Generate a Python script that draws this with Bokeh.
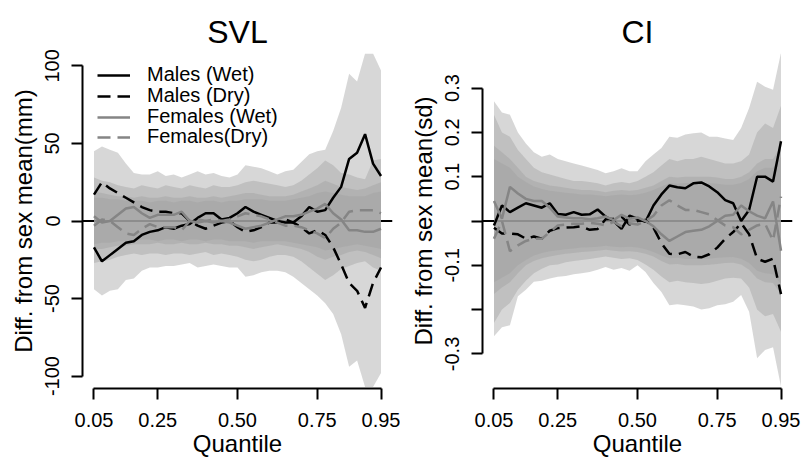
from bokeh.plotting import figure
from bokeh.models import Range1d, FixedTicker, CustomJSTickFormatter, Span, Legend, LegendItem
from bokeh.layouts import row
from bokeh.embed import file_html
from bokeh.resources import INLINE

# ---------------- data ----------------
QUANTILE = [0.05, 0.075, 0.1, 0.125, 0.15, 0.175, 0.2, 0.225, 0.25, 0.275, 0.3, 0.325,
            0.35, 0.375, 0.4, 0.425, 0.45, 0.475, 0.5, 0.525, 0.55, 0.575, 0.6, 0.625,
            0.65, 0.675, 0.7, 0.725, 0.75, 0.775, 0.8, 0.825, 0.85, 0.875, 0.9, 0.925, 0.95]
X_TICKS = [0.05, 0.25, 0.5, 0.75, 0.95]
X_TICK_LABELS = ["0.05", "0.25", "0.50", "0.75", "0.95"]
SERIES_NAMES = ["Males (Wet)", "Males (Dry)", "Females (Wet)", "Females(Dry)"]

# SVL panel
SVL_TICKS = [-100, -50, 0, 50, 100]
SVL_TICK_LABELS = ["-100", "-50", "0", "50", "100"]
SVL_M_WET = [-17, -26, -22, -18, -14, -13, -9, -7, -6, -4, -5, -3, -2, 2, 5, 5, 1, 2, 5, 9, 6, 4, 2, 0,
             -1, -1, 3, 9, 6, 7, 15, 22, 40, 44, 56, 37, 29]
SVL_M_DRY = [17, 25, 21, 18, 15, 12, 9, 7, 6, 6, 5, 5, 0, -3, -5, -3, -1, 0, -4, -7, -6, -4, -1, -1,
             1, -1, -4, -8, -6, -9, -17, -28, -40, -45, -56, -40, -30]
SVL_F_WET = [3, -1, 0, 4, 8, 9, 5, 2, 4, 4, 4, 6, 0, -1, 0, -1, 0, -1, -3, -5, -4, -3, -1, 1,
             3, 3, 4, 6, 8, 11, 5, 1, -6, -6, -7, -7, -5]
SVL_F_DRY = [-3, 1, 0, -4, -8, -9, -5, -2, -4, -4, -4, -6, 0, 1, 0, 1, 0, 1, 3, 5, 4, 3, 1, -1,
             -3, -3, -4, -6, -8, -11, -5, -1, 6, 7, 7, 7, 5]
SVL_BAND1_UP = [45, 48, 46, 44, 37, 31, 30, 30, 32, 29, 30, 28, 30, 32, 30, 31, 29, 28, 30, 36, 35, 34,
                32, 30, 32, 33, 38, 43, 45, 46, 58, 73, 95, 90, 108, 108, 97]
SVL_BAND1_LO = [-44, -48, -45, -44, -38, -37, -32, -30, -30, -29, -29, -28, -27, -30, -29, -28, -29, -30,
                -30, -36, -35, -33, -32, -32, -33, -36, -40, -44, -48, -53, -60, -73, -94, -90, -107, -107, -98]
SVL_BAND2_UP = [28, 26, 25, 23, 22, 21, 23, 22, 21, 23, 22, 21, 23, 22, 21, 23, 22, 22, 23, 25, 26, 25,
                24, 23, 22, 23, 26, 30, 34, 39, 36, 31, 30, 28, 27, 39, 40]
SVL_BAND2_LO = [-27, -26, -25, -23, -22, -21, -22, -21, -21, -22, -21, -21, -22, -21, -20, -22, -21, -22,
                -23, -25, -26, -25, -23, -22, -22, -23, -26, -30, -34, -38, -35, -31, -29, -27, -26, -30, -32]
SVL_BAND3_UP = [19, 18, 17, 16, 16, 15, 16, 15, 15, 16, 15, 15, 16, 15, 15, 16, 15, 16, 17, 18, 18, 17,
                16, 16, 16, 17, 19, 21, 23, 26, 24, 22, 21, 20, 21, 23, 25]
SVL_BAND3_LO = [-18, -18, -17, -16, -16, -15, -15, -15, -14, -15, -15, -14, -15, -15, -14, -15, -15, -16,
                -16, -17, -18, -17, -16, -15, -16, -17, -18, -20, -23, -25, -23, -22, -20, -19, -20, -22, -24]
SVL_BAND4_UP = [15, 15, 14, 14, 13, 13, 13, 12, 13, 13, 12, 13, 13, 12, 13, 13, 12, 13, 13, 14, 14, 14,
                13, 13, 13, 14, 15, 16, 18, 19, 18, 17, 16, 16, 16, 18, 19]
SVL_BAND4_LO = [-15, -14, -14, -13, -13, -13, -12, -12, -13, -12, -12, -13, -12, -12, -13, -12, -12, -13,
                -13, -13, -14, -13, -13, -13, -13, -14, -15, -16, -17, -19, -18, -17, -16, -15, -16, -17, -18]

# CI panel
CI_TICKS = [-0.3, -0.2, -0.1, 0.0, 0.1, 0.2, 0.3]
CI_TICK_LABELS = ["-0.3", "", "-0.1", "", "0.1", "0.2", "0.3"]
CI_M_WET = [-0.01, 0.035, 0.02, 0.03, 0.04, 0.035, 0.03, 0.04, 0.016, 0.014, 0.02, 0.014, 0.015, 0.026,
            0.01, 0.0, -0.018, 0.012, 0.005, -0.002, 0.035, 0.06, 0.08, 0.076, 0.074, 0.085, 0.087,
            0.078, 0.065, 0.047, 0.04, 0.0, 0.025, 0.1, 0.1, 0.089, 0.18]
CI_M_DRY = [-0.015, -0.028, -0.028, -0.03, -0.04, -0.035, -0.04, -0.022, -0.016, -0.015, -0.014, -0.012,
            -0.02, -0.018, 0.004, 0.005, 0.01, -0.008, 0.0, 0.002, -0.015, -0.05, -0.074, -0.075, -0.07,
            -0.08, -0.082, -0.075, -0.06, -0.04, -0.025, -0.005, -0.03, -0.085, -0.092, -0.085, -0.165]
CI_F_WET = [0.045, 0.005, 0.077, 0.062, 0.05, 0.045, 0.045, 0.03, 0.01, 0.008, 0.006, 0.006, 0.004, 0.006,
            0.01, 0.002, 0.014, 0.005, 0.008, 0.0, -0.012, -0.03, -0.045, -0.035, -0.025, -0.022, -0.02,
            -0.012, 0.0, 0.012, 0.014, 0.035, 0.022, 0.012, 0.006, 0.044, -0.067]
CI_F_DRY = [-0.04, 0.0, -0.068, -0.055, -0.045, -0.04, -0.04, -0.025, -0.01, -0.008, -0.006, -0.006,
            -0.004, -0.006, -0.01, -0.002, -0.012, -0.005, -0.008, 0.0, 0.012, 0.035, 0.047, 0.035, 0.025,
            0.025, 0.02, 0.015, 0.002, -0.01, -0.014, -0.03, -0.02, -0.01, -0.006, -0.044, 0.055]
CI_BAND1_UP = [0.27, 0.245, 0.24, 0.2, 0.175, 0.155, 0.145, 0.15, 0.14, 0.135, 0.13, 0.125, 0.12, 0.115,
               0.108, 0.112, 0.119, 0.112, 0.112, 0.135, 0.15, 0.165, 0.19, 0.188, 0.195, 0.198, 0.2, 0.19,
               0.19, 0.186, 0.183, 0.21, 0.255, 0.314, 0.303, 0.296, 0.38]
CI_BAND1_LO = [-0.26, -0.24, -0.235, -0.17, -0.155, -0.137, -0.135, -0.13, -0.126, -0.124, -0.12, -0.118,
               -0.115, -0.11, -0.104, -0.11, -0.106, -0.112, -0.1, -0.115, -0.14, -0.16, -0.19, -0.188,
               -0.19, -0.193, -0.2, -0.197, -0.19, -0.188, -0.182, -0.167, -0.205, -0.31, -0.291, -0.285, -0.374]
CI_BAND2_UP = [0.24, 0.2, 0.19, 0.16, 0.14, 0.12, 0.11, 0.105, 0.1, 0.095, 0.09, 0.09, 0.088, 0.085, 0.08,
               0.085, 0.088, 0.085, 0.09, 0.1, 0.11, 0.125, 0.14, 0.135, 0.14, 0.14, 0.145, 0.14, 0.135,
               0.13, 0.13, 0.135, 0.15, 0.2, 0.22, 0.21, 0.26]
CI_BAND2_LO = [-0.23, -0.2, -0.185, -0.155, -0.135, -0.118, -0.108, -0.1, -0.098, -0.093, -0.09, -0.088,
               -0.086, -0.083, -0.08, -0.083, -0.086, -0.084, -0.088, -0.098, -0.11, -0.125, -0.138, -0.135,
               -0.138, -0.14, -0.142, -0.14, -0.135, -0.13, -0.128, -0.13, -0.15, -0.2, -0.215, -0.21, -0.25]
CI_BAND3_UP = [0.17, 0.155, 0.14, 0.12, 0.1, 0.09, 0.085, 0.08, 0.078, 0.075, 0.072, 0.07, 0.07, 0.068,
               0.065, 0.068, 0.07, 0.068, 0.07, 0.075, 0.08, 0.09, 0.1, 0.098, 0.1, 0.1, 0.1, 0.1, 0.098,
               0.095, 0.095, 0.1, 0.11, 0.13, 0.14, 0.14, 0.17]
CI_BAND3_LO = [-0.165, -0.15, -0.138, -0.118, -0.1, -0.09, -0.084, -0.08, -0.077, -0.074, -0.072, -0.07,
               -0.069, -0.067, -0.065, -0.067, -0.069, -0.068, -0.07, -0.074, -0.08, -0.09, -0.098, -0.097,
               -0.1, -0.1, -0.1, -0.099, -0.097, -0.095, -0.094, -0.098, -0.11, -0.13, -0.138, -0.14, -0.165]
CI_BAND4_UP = [0.14, 0.13, 0.12, 0.1, 0.088, 0.078, 0.072, 0.068, 0.066, 0.064, 0.062, 0.06, 0.06, 0.058,
               0.056, 0.058, 0.06, 0.058, 0.06, 0.064, 0.07, 0.078, 0.085, 0.084, 0.086, 0.086, 0.086,
               0.085, 0.084, 0.082, 0.082, 0.086, 0.095, 0.112, 0.12, 0.12, 0.145]
CI_BAND4_LO = [-0.138, -0.128, -0.118, -0.1, -0.088, -0.078, -0.072, -0.068, -0.066, -0.064, -0.062,
               -0.06, -0.059, -0.058, -0.056, -0.058, -0.059, -0.058, -0.06, -0.064, -0.07, -0.078,
               -0.084, -0.083, -0.086, -0.086, -0.086, -0.085, -0.083, -0.082, -0.081, -0.085, -0.095,
               -0.112, -0.118, -0.12, -0.142]

# ---------------- styling ----------------
FONT = "Liberation Sans"
BAND_COLOR = (160, 160, 160)
BAND_ALPHA = 0.42
GREY = "#858585"
LINE_STYLES = [("black", "solid"), ("black", "13 7"), (GREY, "solid"), (GREY, "13 7")]
LEGEND_OFFSETS = [(15, 302), (15, 281), (15, 260), (15, 240)]  # screen px from frame bottom-left

FMT_CODE = """
const i = tv.findIndex(t => Math.abs(t - tick) < 1e-9);
return i >= 0 ? tl[i] : '';
"""


def make_panel(title, ylabel, yrange, yticks, ylabels, bands, lines, width, right_border, with_legend):
    p = figure(width=width, height=461,
               x_range=Range1d(0.014, 0.986), y_range=Range1d(*yrange),
               output_backend="svg", toolbar_location=None,
               min_border_left=82, min_border_right=right_border,
               min_border_top=53, min_border_bottom=73)
    p.outline_line_color = None
    p.xgrid.visible = False
    p.ygrid.visible = False
    p.background_fill_color = "white"
    p.border_fill_color = "white"

    p.title.text = title
    p.title.align = "center"
    p.title.text_font = FONT
    p.title.text_font_size = "32px"
    p.title.text_font_style = "normal"
    p.title.text_color = "black"
    p.title.standoff = 8

    # zero reference line (under the bands)
    p.add_layout(Span(location=0, dimension="width", line_color="black",
                      line_width=2, level="underlay"))

    for up, lo in bands:
        p.varea(x=QUANTILE, y1=lo, y2=up, fill_color=BAND_COLOR, fill_alpha=BAND_ALPHA)

    renderers = []
    for ys, (col, dash) in zip(lines, LINE_STYLES):
        r = p.line(QUANTILE, ys, line_color=col, line_width=2.5, line_dash=dash)
        renderers.append(r)

    xa = p.xaxis[0]
    xa.ticker = FixedTicker(ticks=X_TICKS)
    xa.formatter = CustomJSTickFormatter(args=dict(tv=X_TICKS, tl=X_TICK_LABELS), code=FMT_CODE)
    xa.bounds = (X_TICKS[0], X_TICKS[-1])
    xa.axis_label = "Quantile"

    ya = p.yaxis[0]
    ya.ticker = FixedTicker(ticks=yticks)
    ya.formatter = CustomJSTickFormatter(args=dict(tv=yticks, tl=ylabels), code=FMT_CODE)
    ya.bounds = (yticks[0], yticks[-1])
    ya.axis_label = ylabel
    ya.major_label_orientation = "vertical"

    for ax in (xa, ya):
        ax.axis_line_width = 2
        ax.axis_line_color = "black"
        ax.major_tick_line_width = 2
        ax.major_tick_line_color = "black"
        ax.major_tick_in = 0
        ax.major_tick_out = 11
        ax.minor_tick_line_color = None
        ax.major_label_text_font = FONT
        ax.major_label_text_font_size = "20px"
        ax.major_label_text_color = "black"
        ax.axis_label_text_font = FONT
        ax.axis_label_text_font_size = "24px"
        ax.axis_label_text_font_style = "normal"
        ax.axis_label_text_color = "black"
    xa.major_label_standoff = 13
    xa.axis_label_standoff = 0
    ya.major_label_standoff = 12
    ya.axis_label_standoff = 6

    if with_legend:
        for name, r, loc in zip(SERIES_NAMES, renderers, LEGEND_OFFSETS):
            leg = Legend(items=[LegendItem(label=name, renderers=[r])], location=loc,
                         padding=0, margin=0, glyph_width=33, glyph_height=20, label_height=20,
                         spacing=0, label_standoff=17, label_text_font=FONT,
                         label_text_font_size="20px", label_text_color="black",
                         background_fill_alpha=0, border_line_color=None)
            p.add_layout(leg)
    return p


p1 = make_panel("SVL", "Diff. from sex mean(mm)", (-108, 108), SVL_TICKS, SVL_TICK_LABELS,
                [(SVL_BAND1_UP, SVL_BAND1_LO), (SVL_BAND2_UP, SVL_BAND2_LO),
                 (SVL_BAND3_UP, SVL_BAND3_LO), (SVL_BAND4_UP, SVL_BAND4_LO)],
                [SVL_M_WET, SVL_M_DRY, SVL_F_WET, SVL_F_DRY], 400, 8, True)
p2 = make_panel("CI", "Diff. from sex mean(sd)", (-0.378, 0.378), CI_TICKS, CI_TICK_LABELS,
                [(CI_BAND1_UP, CI_BAND1_LO), (CI_BAND2_UP, CI_BAND2_LO),
                 (CI_BAND3_UP, CI_BAND3_LO), (CI_BAND4_UP, CI_BAND4_LO)],
                [CI_M_WET, CI_M_DRY, CI_F_WET, CI_F_DRY], 401, 9, False)

layout = row(p1, p2)
open("out.html", "w").write(file_html(layout, INLINE))
